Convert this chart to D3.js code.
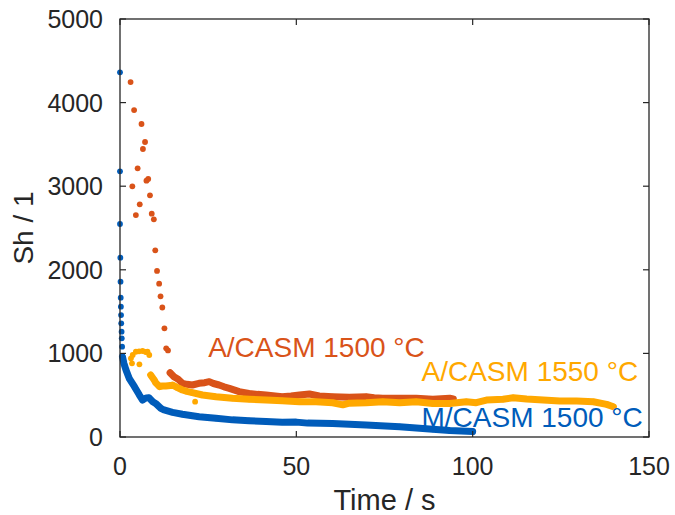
<!DOCTYPE html>
<html>
<head>
<meta charset="utf-8">
<script src="https://cdn.jsdelivr.net/npm/d3@7"></script>
<style>
  body { margin: 0; background: #fff; }
  text { font-family: "Liberation Sans", Arial, Helvetica, sans-serif; }
</style>
</head>
<body>
<script>
const width = 675;
const height = 515;

// values: [time s, Sh]
const blueDots = [[0,4362],[0,3178],[0,2548],[0.1,2145],[0.15,1858],[0.2,1666],[0.25,1559],
  [0.3,1459],[0.35,1360],[0.45,1260],[0.5,1180],[0.6,1080],[0.7,960]];
const blueTrace = [[0.7,960],[1.1,881],[1.7,801],[2.6,702],[4.1,602],[5.5,502],[6.4,442],
  [7.4,468],[8.2,470],[9.3,422],[10.1,402],[11.6,343],[12.5,323],[14.9,295],[17.7,272],
  [22.4,243],[27.2,223],[31.9,205],[36.6,195],[41.4,185],[46,177],[50,178],[53.2,166],
  [60.3,160],[69.8,144],[79.3,123],[88.7,92],[93.5,78],[100,66]];

const orangeDots = [[3.0,4246],[4.0,3911],[6.1,3744],[7.1,3529],[6.5,3445],[5.0,3214],
  [8.0,3086],[7.5,3066],[3.5,2999],[8.5,2891],[5.6,2783],[9.0,2671],[4.5,2655],[9.6,2604],
  [10.0,2233],[10.5,1986],[11.1,1834],[11.5,1683],[12.0,1549],[12.6,1300],[13.1,1061],[13.6,1036]];
const orangeTrace = [[14.2,769],[15.3,721],[16.5,690],[17.7,642],[19,630],[20.5,622],[22.4,642],
  [24,650],[25.3,662],[26.5,640],[28.1,622],[29.5,600],[31,582],[33.8,542],[36.6,522],[39,510],
  [41.4,502],[44,490],[46,482],[48.5,490],[50.9,502],[53.7,514],[56.5,490],[60.3,482],[65,475],
  [69.8,482],[72,470],[74.5,463],[79.3,463],[84,463],[88.7,451],[93.5,463],[94.5,455]];

const yellowDots = [[3.1,941],[3.4,881],[5.5,869],[3.6,981],[4.5,1020],[5.4,1025],[6.4,1029],
  [7.3,1017],[7.8,1020],[8.3,981],[21.3,422]];
const yellowTrace = [[8.7,741],[9.7,682],[10.1,650],[11.2,602],[12,610],[13,610],[14.3,615],
  [14.9,622],[16.3,590],[17.7,562],[19,545],[20.5,530],[23.4,502],[27.2,482],[31.9,463],
  [36.6,451],[41.4,442],[46,434],[50.9,422],[55.6,422],[60.3,410],[63.2,385],[65,405],
  [69.8,410],[74.5,422],[79.3,410],[84,422],[88.7,402],[93.5,402],[98.2,422],[101,410],
  [103.9,442],[108.6,451],[111.5,470],[115.3,455],[120,442],[124.7,430],[129.5,430],
  [134.2,422],[138,390],[139.9,362]];

const xTicks = [0, 50, 100, 150];
const yTicks = [0, 1000, 2000, 3000, 4000, 5000];

const series = [
  { name: "M/CASM 1500 °C", color: "#005cba", dots: blueDots, trace: blueTrace },
  { name: "A/CASM 1500 °C", color: "#d95319", dots: orangeDots, trace: orangeTrace },
  { name: "A/CASM 1550 °C", color: "#ffa800", dots: yellowDots, trace: yellowTrace }
];
// label anchors in data coordinates (start of text, baseline)
const labelAt = [[85.5, 123], [25, 955], [85.5, 670]];

const margin = { top: 19, right: 26, bottom: 78, left: 120 };
const axisColor = "#262626";

const svg = d3.create("svg")
  .attr("width", width)
  .attr("height", height);
document.body.appendChild(svg.node());

const x = d3.scaleLinear().domain([0, 150]).range([margin.left, width - margin.right]);
const y = d3.scaleLinear().domain([0, 5000]).range([height - margin.bottom, margin.top]);

const line = d3.line().x(d => x(d[0])).y(d => y(d[1]));

series.forEach(s => {
  svg.append("path")
    .datum(s.trace)
    .attr("d", line)
    .attr("fill", "none")
    .attr("stroke", s.color)
    .attr("stroke-width", 7)
    .attr("stroke-linejoin", "round")
    .attr("stroke-linecap", "round");
  svg.append("g").selectAll("circle")
    .data(s.dots.concat(s.trace))
    .enter().append("circle")
    .attr("cx", d => x(d[0]))
    .attr("cy", d => y(d[1]))
    .attr("r", 2.9)
    .attr("fill", s.color);
});

// box
svg.append("rect")
  .attr("x", x(0)).attr("y", y(5000))
  .attr("width", x(150) - x(0)).attr("height", y(0) - y(5000))
  .attr("fill", "none").attr("stroke", axisColor).attr("stroke-width", 1.3);

const tickLen = 6;
xTicks.forEach(t => {
  svg.append("line").attr("x1", x(t)).attr("x2", x(t))
    .attr("y1", y(0)).attr("y2", y(0) - tickLen).attr("stroke", axisColor).attr("stroke-width", 1.2);
  svg.append("line").attr("x1", x(t)).attr("x2", x(t))
    .attr("y1", y(5000)).attr("y2", y(5000) + tickLen).attr("stroke", axisColor).attr("stroke-width", 1.2);
  svg.append("text").attr("x", x(t)).attr("y", y(0) + 38)
    .attr("text-anchor", "middle").attr("font-size", 25).attr("fill", axisColor).text(t);
});
yTicks.forEach(t => {
  svg.append("line").attr("x1", x(0)).attr("x2", x(0) + tickLen)
    .attr("y1", y(t)).attr("y2", y(t)).attr("stroke", axisColor).attr("stroke-width", 1.2);
  svg.append("line").attr("x1", x(150)).attr("x2", x(150) - tickLen)
    .attr("y1", y(t)).attr("y2", y(t)).attr("stroke", axisColor).attr("stroke-width", 1.2);
  svg.append("text").attr("x", x(0) - 17).attr("y", y(t)).attr("dy", "0.36em")
    .attr("text-anchor", "end").attr("font-size", 25).attr("fill", axisColor).text(t);
});

svg.append("text")
  .attr("x", (x(0) + x(150)) / 2).attr("y", 510)
  .attr("text-anchor", "middle").attr("font-size", 29).attr("fill", axisColor)
  .text("Time / s");
svg.append("text")
  .attr("transform", "translate(33,228) rotate(-90)")
  .attr("text-anchor", "middle").attr("font-size", 28).attr("fill", axisColor)
  .text("Sh / 1");

series.forEach((s, i) => {
  svg.append("text")
    .attr("x", x(labelAt[i][0])).attr("y", y(labelAt[i][1]))
    .attr("font-size", 28).attr("fill", s.color)
    .text(s.name);
});
</script>
</body>
</html>
